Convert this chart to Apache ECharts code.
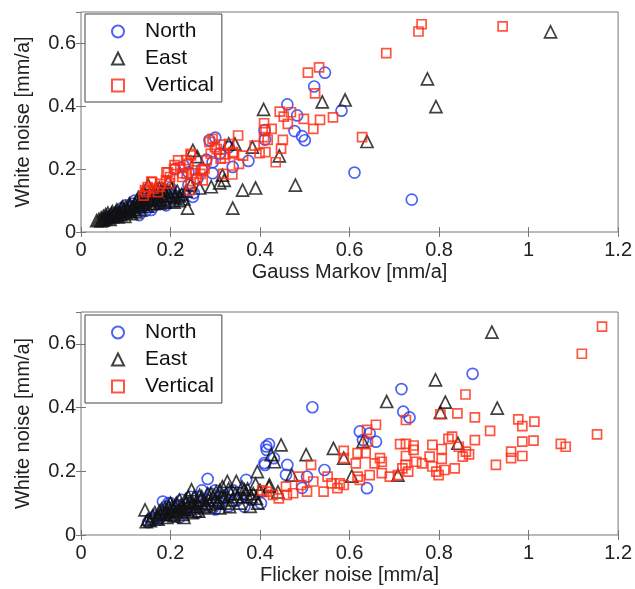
<!DOCTYPE html>
<html><head><meta charset="utf-8">
<script src="https://cdn.jsdelivr.net/npm/echarts@6/dist/echarts.min.js"></script>
<style>html,body{margin:0;padding:0;background:#fff}#c{width:635px;height:589px}</style>
</head><body><div id="c"></div>
<script>
const seriesNames = ['North', 'East', 'Vertical'];
const xTicks = [0, 0.2, 0.4, 0.6, 0.8, 1, 1.2];
const yTicks = [0, 0.2, 0.4, 0.6];

// Top panel: Gauss Markov vs White noise
const gmNorth = [[0.06,0.045],[0.065,0.05],[0.07,0.055],[0.075,0.048],[0.08,0.06],[0.085,0.052],[0.09,0.065],[0.09,0.075],[0.095,0.058],[0.1,0.07],[0.1,0.085],[0.105,0.062],[0.11,0.078],[0.115,0.09],[0.12,0.068],[0.12,0.1],[0.125,0.08],[0.13,0.054],[0.13,0.092],[0.135,0.075],[0.14,0.085],[0.14,0.105],[0.145,0.068],[0.15,0.095],[0.155,0.12],[0.157,0.07],[0.16,0.08],[0.165,0.1],[0.17,0.115],[0.175,0.09],[0.18,0.13],[0.185,0.1],[0.19,0.085],[0.195,0.125],[0.2,0.14],[0.205,0.105],[0.21,0.115],[0.21,0.2],[0.22,0.106],[0.23,0.12],[0.23,0.21],[0.24,0.15],[0.24,0.19],[0.25,0.112],[0.252,0.124],[0.26,0.17],[0.27,0.2],[0.28,0.23],[0.287,0.292],[0.294,0.187],[0.294,0.222],[0.3,0.3],[0.31,0.25],[0.33,0.27],[0.339,0.207],[0.374,0.226],[0.41,0.324],[0.411,0.294],[0.461,0.406],[0.477,0.321],[0.483,0.371],[0.494,0.305],[0.5,0.292],[0.521,0.463],[0.545,0.507],[0.582,0.386],[0.611,0.189],[0.739,0.103]];
const gmEast = [[0.035,0.036],[0.04,0.04],[0.045,0.045],[0.045,0.035],[0.05,0.038],[0.05,0.05],[0.055,0.055],[0.055,0.042],[0.06,0.045],[0.06,0.06],[0.065,0.052],[0.065,0.04],[0.068,0.058],[0.07,0.065],[0.07,0.048],[0.075,0.058],[0.078,0.062],[0.08,0.07],[0.08,0.052],[0.083,0.048],[0.085,0.064],[0.088,0.055],[0.09,0.075],[0.09,0.058],[0.093,0.08],[0.095,0.068],[0.098,0.05],[0.1,0.08],[0.1,0.062],[0.103,0.066],[0.105,0.072],[0.108,0.09],[0.11,0.085],[0.11,0.066],[0.113,0.058],[0.115,0.078],[0.118,0.082],[0.12,0.09],[0.12,0.072],[0.123,0.064],[0.125,0.1],[0.128,0.11],[0.13,0.082],[0.13,0.095],[0.133,0.07],[0.135,0.11],[0.138,0.095],[0.14,0.088],[0.14,0.13],[0.143,0.12],[0.145,0.1],[0.148,0.082],[0.15,0.115],[0.15,0.15],[0.153,0.105],[0.155,0.09],[0.158,0.13],[0.16,0.105],[0.163,0.09],[0.165,0.125],[0.168,0.14],[0.17,0.1],[0.173,0.11],[0.175,0.14],[0.176,0.092],[0.178,0.1],[0.18,0.12],[0.183,0.135],[0.185,0.105],[0.188,0.095],[0.19,0.115],[0.193,0.13],[0.195,0.16],[0.198,0.115],[0.2,0.1],[0.203,0.14],[0.205,0.125],[0.208,0.095],[0.21,0.11],[0.215,0.13],[0.22,0.1],[0.22,0.115],[0.225,0.12],[0.23,0.105],[0.235,0.13],[0.238,0.076],[0.245,0.15],[0.25,0.26],[0.26,0.24],[0.265,0.14],[0.291,0.144],[0.31,0.156],[0.316,0.181],[0.32,0.164],[0.33,0.28],[0.339,0.076],[0.344,0.28],[0.361,0.133],[0.383,0.27],[0.39,0.14],[0.408,0.39],[0.443,0.242],[0.479,0.149],[0.539,0.414],[0.59,0.42],[0.639,0.288],[0.774,0.487],[0.793,0.399],[1.049,0.637]];
const gmVert = [[0.14,0.116],[0.143,0.133],[0.145,0.127],[0.149,0.143],[0.157,0.16],[0.159,0.159],[0.163,0.138],[0.172,0.127],[0.176,0.144],[0.177,0.153],[0.19,0.164],[0.191,0.19],[0.194,0.19],[0.198,0.155],[0.199,0.175],[0.208,0.201],[0.209,0.213],[0.217,0.228],[0.222,0.206],[0.226,0.175],[0.227,0.187],[0.235,0.229],[0.236,0.185],[0.24,0.217],[0.243,0.133],[0.245,0.249],[0.245,0.153],[0.246,0.244],[0.249,0.187],[0.254,0.196],[0.258,0.169],[0.267,0.185],[0.272,0.164],[0.272,0.197],[0.276,0.201],[0.281,0.228],[0.287,0.287],[0.29,0.249],[0.294,0.296],[0.299,0.27],[0.303,0.264],[0.312,0.278],[0.312,0.233],[0.318,0.185],[0.321,0.235],[0.322,0.247],[0.331,0.28],[0.338,0.183],[0.339,0.25],[0.34,0.254],[0.351,0.307],[0.353,0.217],[0.362,0.243],[0.388,0.275],[0.399,0.251],[0.409,0.346],[0.409,0.302],[0.412,0.325],[0.412,0.254],[0.417,0.293],[0.426,0.328],[0.435,0.222],[0.444,0.383],[0.447,0.265],[0.451,0.293],[0.453,0.367],[0.462,0.344],[0.469,0.381],[0.498,0.36],[0.507,0.507],[0.519,0.328],[0.523,0.441],[0.532,0.524],[0.534,0.357],[0.563,0.365],[0.628,0.302],[0.682,0.569],[0.754,0.638],[0.761,0.661],[0.942,0.654]];

// Bottom panel: Flicker noise vs White noise
const flNorth = [[0.15,0.04],[0.155,0.05],[0.16,0.045],[0.165,0.06],[0.17,0.055],[0.175,0.05],[0.18,0.06],[0.183,0.105],[0.185,0.07],[0.19,0.065],[0.19,0.09],[0.195,0.1],[0.2,0.08],[0.2,0.1],[0.205,0.06],[0.21,0.075],[0.215,0.095],[0.22,0.09],[0.22,0.055],[0.225,0.11],[0.23,0.07],[0.235,0.085],[0.24,0.1],[0.245,0.12],[0.25,0.08],[0.255,0.095],[0.26,0.12],[0.26,0.07],[0.265,0.105],[0.27,0.09],[0.27,0.14],[0.28,0.11],[0.283,0.176],[0.29,0.13],[0.295,0.085],[0.3,0.14],[0.3,0.08],[0.31,0.1],[0.315,0.125],[0.32,0.12],[0.33,0.09],[0.335,0.135],[0.34,0.14],[0.35,0.11],[0.36,0.13],[0.365,0.089],[0.369,0.173],[0.38,0.11],[0.402,0.1],[0.41,0.226],[0.411,0.22],[0.414,0.278],[0.415,0.267],[0.42,0.285],[0.431,0.241],[0.458,0.189],[0.461,0.22],[0.494,0.148],[0.505,0.183],[0.517,0.401],[0.544,0.204],[0.623,0.325],[0.63,0.298],[0.639,0.147],[0.645,0.319],[0.659,0.293],[0.716,0.458],[0.72,0.387],[0.734,0.369],[0.875,0.506]];
const flEast = [[0.143,0.079],[0.146,0.042],[0.15,0.05],[0.155,0.045],[0.16,0.06],[0.165,0.07],[0.17,0.055],[0.172,0.05],[0.175,0.075],[0.178,0.065],[0.18,0.08],[0.185,0.065],[0.188,0.085],[0.19,0.07],[0.192,0.055],[0.195,0.09],[0.198,0.075],[0.2,0.1],[0.2,0.065],[0.203,0.09],[0.205,0.08],[0.208,0.06],[0.21,0.09],[0.213,0.1],[0.215,0.07],[0.218,0.075],[0.22,0.11],[0.224,0.095],[0.225,0.085],[0.228,0.065],[0.23,0.08],[0.23,0.055],[0.233,0.11],[0.235,0.1],[0.238,0.08],[0.24,0.12],[0.243,0.105],[0.245,0.09],[0.247,0.142],[0.248,0.07],[0.25,0.1],[0.253,0.12],[0.255,0.075],[0.258,0.09],[0.26,0.1],[0.263,0.075],[0.265,0.125],[0.268,0.11],[0.27,0.12],[0.275,0.085],[0.278,0.1],[0.28,0.09],[0.283,0.13],[0.285,0.11],[0.288,0.095],[0.29,0.13],[0.295,0.12],[0.3,0.11],[0.302,0.135],[0.305,0.1],[0.308,0.105],[0.31,0.14],[0.31,0.085],[0.313,0.12],[0.316,0.152],[0.32,0.12],[0.323,0.1],[0.327,0.168],[0.33,0.145],[0.332,0.089],[0.335,0.13],[0.338,0.11],[0.345,0.13],[0.347,0.168],[0.35,0.12],[0.355,0.1],[0.36,0.15],[0.362,0.12],[0.365,0.142],[0.37,0.13],[0.372,0.145],[0.378,0.09],[0.38,0.12],[0.385,0.13],[0.39,0.16],[0.392,0.115],[0.394,0.199],[0.395,0.1],[0.4,0.14],[0.42,0.152],[0.421,0.157],[0.425,0.252],[0.432,0.23],[0.44,0.135],[0.447,0.283],[0.471,0.188],[0.503,0.252],[0.564,0.272],[0.587,0.241],[0.605,0.185],[0.63,0.293],[0.683,0.419],[0.708,0.188],[0.792,0.487],[0.803,0.385],[0.814,0.417],[0.842,0.288],[0.918,0.637],[0.93,0.398]];
const flVert = [[0.405,0.14],[0.415,0.136],[0.429,0.126],[0.442,0.115],[0.458,0.152],[0.46,0.126],[0.474,0.131],[0.487,0.183],[0.492,0.157],[0.505,0.136],[0.514,0.22],[0.519,0.168],[0.542,0.136],[0.551,0.183],[0.56,0.162],[0.573,0.147],[0.578,0.162],[0.587,0.157],[0.587,0.264],[0.587,0.241],[0.614,0.225],[0.618,0.257],[0.618,0.183],[0.623,0.173],[0.636,0.257],[0.639,0.33],[0.641,0.293],[0.645,0.188],[0.656,0.225],[0.659,0.346],[0.668,0.241],[0.672,0.23],[0.672,0.194],[0.69,0.183],[0.708,0.188],[0.713,0.285],[0.718,0.209],[0.725,0.22],[0.726,0.361],[0.726,0.286],[0.726,0.248],[0.731,0.199],[0.743,0.281],[0.743,0.267],[0.749,0.23],[0.762,0.225],[0.779,0.246],[0.785,0.283],[0.785,0.215],[0.794,0.199],[0.799,0.188],[0.803,0.379],[0.806,0.27],[0.806,0.239],[0.812,0.204],[0.821,0.302],[0.829,0.309],[0.835,0.209],[0.841,0.382],[0.844,0.277],[0.853,0.246],[0.859,0.441],[0.86,0.262],[0.867,0.253],[0.88,0.369],[0.88,0.298],[0.914,0.327],[0.927,0.22],[0.961,0.262],[0.961,0.241],[0.977,0.363],[0.986,0.342],[0.986,0.293],[0.986,0.248],[1.011,0.296],[1.013,0.356],[1.072,0.286],[1.083,0.277],[1.119,0.569],[1.153,0.316],[1.164,0.654]];

const colors = {North: '#1f3cf0', East: '#111111', Vertical: '#ff2a10'};
const symbols = {North: 'circle', East: 'triangle', Vertical: 'rect'};
const sizes = {North: 11, East: 12, Vertical: 9};

const FONT = 'Liberation Sans, Arial, sans-serif';
const frame = '#777';

function mkX(gi, pos, name) {
  return {
    type: 'value', gridIndex: gi, position: pos, min: 0, max: 1.2, interval: 0.2,
    name: name || '', nameLocation: 'middle', nameGap: 30,
    nameTextStyle: {fontFamily: FONT, fontSize: 20, color: '#222'},
    axisLine: {show: false},
    axisTick: {show: true, inside: true, length: 5, lineStyle: {color: frame}},
    axisLabel: {show: pos === 'bottom', fontFamily: FONT, fontSize: 20, color: '#222', margin: 8},
    splitLine: {show: false}
  };
}
function mkY(gi, pos, name) {
  return {
    type: 'value', gridIndex: gi, position: pos, min: 0, max: 0.7, interval: 0.2,
    name: name || '', nameLocation: 'middle', nameGap: 48,
    nameTextStyle: {fontFamily: FONT, fontSize: 20, color: '#222'},
    axisLine: {show: false},
    axisTick: {show: true, inside: true, length: 5, lineStyle: {color: frame}},
    axisLabel: {show: pos === 'left', fontFamily: FONT, fontSize: 20, color: '#222', margin: 5, showMaxLabel: false},
    splitLine: {show: false}
  };
}
function mkSeries(name, data, xi, yi) {
  return {
    type: 'scatter', name: name, data: data, xAxisIndex: xi, yAxisIndex: yi,
    symbol: symbols[name], symbolSize: sizes[name],
    itemStyle: {color: 'rgba(0,0,0,0)', borderColor: colors[name], borderWidth: 1.7},
    emphasis: {disabled: true}, animation: false
  };
}
function mkLegend(top) {
  return {
    data: seriesNames, orient: 'vertical', left: 85, top: top,
    padding: [7, 8, 6, 26], itemGap: 6, itemWidth: 12, itemHeight: 12,
    borderColor: '#444', borderWidth: 1, backgroundColor: '#fff',
    textStyle: {fontFamily: FONT, fontSize: 21, color: '#111', lineHeight: 21, padding: [0, 0, 0, 16]}
  };
}

const chart = echarts.init(document.getElementById('c'));
chart.setOption({
  animation: false,
  grid: [
    {left: 81, top: 12, width: 539, height: 220, show: true, borderColor: frame, borderWidth: 1, backgroundColor: 'transparent'},
    {left: 81, top: 312, width: 539, height: 223, show: true, borderColor: frame, borderWidth: 1, backgroundColor: 'transparent'}
  ],
  xAxis: [mkX(0, 'bottom', 'Gauss Markov [mm/a]'), mkX(0, 'top'), mkX(1, 'bottom', 'Flicker noise [mm/a]'), mkX(1, 'top')],
  yAxis: [mkY(0, 'left', 'White noise [mm/a]'), mkY(0, 'right'), mkY(1, 'left', 'White noise [mm/a]'), mkY(1, 'right')],
  legend: [mkLegend(14), mkLegend(315)],
  series: [
    mkSeries('North', gmNorth, 0, 0), mkSeries('East', gmEast, 0, 0), mkSeries('Vertical', gmVert, 0, 0),
    mkSeries('North', flNorth, 2, 2), mkSeries('East', flEast, 2, 2), mkSeries('Vertical', flVert, 2, 2)
  ]
});
</script></body></html>
